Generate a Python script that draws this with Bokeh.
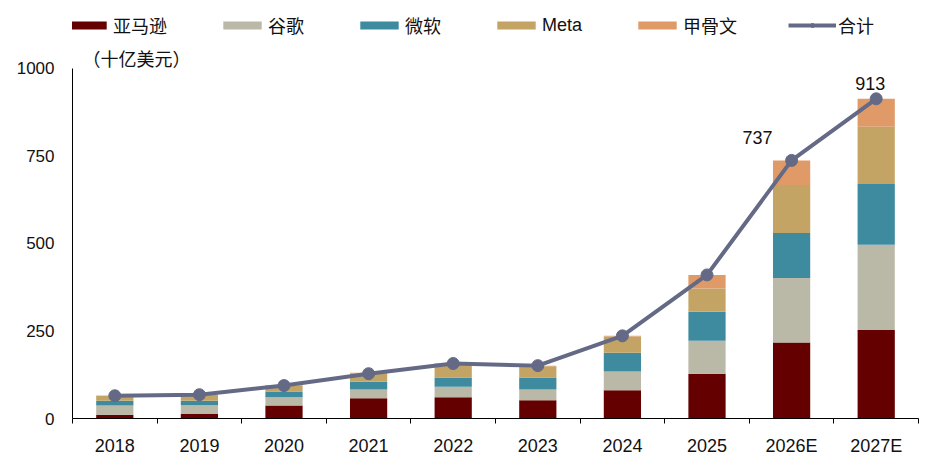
from bokeh.plotting import figure
from bokeh.models import ColumnDataSource, FixedTicker, Legend, LegendItem, Label, Range1d
from bokeh.embed import file_html
from bokeh.resources import INLINE

years = ["2018", "2019", "2020", "2021", "2022", "2023", "2024", "2025", "2026E", "2027E"]
amazon = [11, 13, 37, 58, 61, 52, 81, 128, 217, 253]
google = [26, 25, 24, 25, 30, 31, 53, 94, 184, 243]
msft = [14, 13, 16, 22, 26, 34, 54, 83, 129, 174]
meta = [14, 16, 17, 24, 39, 32, 46, 66, 137, 163]
oracle = [1, 1, 2, 2, 2, 2, 2, 39, 70, 80]
total = [65, 68, 94, 128, 157, 151, 236, 410, 737, 913]
series_names = ["亚马逊", "谷歌", "微软", "Meta", "甲骨文"]
total_name = "合计"
unit_text = "（十亿美元）"
y_ticks = [0, 250, 500, 750, 1000]
y_max = 1000

colors = ["#650000", "#bab9a8", "#3e8a9e", "#c4a464", "#df9a68"]
line_color = "#646a86"
FONT = "Liberation Sans, Noto Sans CJK SC"

# frame spans from canvas top; axis value y_max sits 68px below the top of a 419px frame
frame_h = 419
y_top = y_max * frame_h / (frame_h - 68)

xs = [i + 0.5 for i in range(len(years))]
keys = ["amazon", "google", "msft", "meta", "oracle"]
source = ColumnDataSource(dict(x=xs, amazon=amazon, google=google, msft=msft,
                               meta=meta, oracle=oracle, total=total))

p = figure(width=924, height=458, output_backend="svg", toolbar_location=None,
           x_range=Range1d(0, len(years)), y_range=Range1d(0, y_top),
           min_border_left=72, min_border_right=6, min_border_top=0, min_border_bottom=39)
p.outline_line_color = None
p.xgrid.visible = False
p.ygrid.visible = False

bars = p.vbar_stack(keys, x="x", width=0.44, source=source, color=colors, line_color=None)
ln = p.line("x", "total", source=source, line_color=line_color, line_width=4)
sc = p.scatter("x", "total", source=source, size=12, fill_color=line_color, line_color=line_color)

# x axis: ticks at category boundaries, labels at centres
xt = FixedTicker(ticks=xs, minor_ticks=list(range(len(years) + 1)))
p.xaxis.ticker = xt
p.xaxis.major_label_overrides = {x: y for x, y in zip(xs, years)}
p.xaxis.major_tick_line_color = None
p.xaxis.major_tick_out = 0
p.xaxis.minor_tick_line_color = "black"
p.xaxis.minor_tick_out = 5
p.xaxis.minor_tick_in = 0
p.xaxis.major_label_standoff = 12
p.xaxis.axis_line_color = "black"
p.xaxis.major_label_text_font_size = "18px"

p.yaxis.ticker = FixedTicker(ticks=y_ticks)
p.yaxis.bounds = (0, y_max)
p.yaxis.major_tick_line_color = None
p.yaxis.minor_tick_line_color = None
p.yaxis.major_tick_out = 0
p.yaxis.major_label_standoff = 18
p.yaxis.axis_line_color = "black"
p.yaxis.major_label_text_font_size = "17px"

for ax in (p.xaxis[0], p.yaxis[0]):
    ax.major_label_text_font = FONT
    ax.major_label_text_color = "#111111"

items = [LegendItem(label=n, renderers=[r]) for n, r in zip(series_names, bars)]
items.append(LegendItem(label=total_name, renderers=[ln, sc]))
legend = Legend(items=items, orientation="horizontal", location=(-9, 380),
                glyph_width=48, glyph_height=10, label_standoff=2, spacing=51,
                padding=0, margin=0, border_line_color=None, background_fill_alpha=0,
                label_text_font=FONT, label_text_font_size="18px", label_text_color="#111111")
p.add_layout(legend, "center")

p.add_layout(Label(x=0, y=y_max, x_offset=10, y_offset=8, text=unit_text,
                   text_baseline="middle", text_font=FONT, text_font_size="18px",
                   text_color="#111111"))

for i, dx, dy in [(8, -34, 23), (9, -6, 15)]:
    p.add_layout(Label(x=xs[i], y=total[i], x_offset=dx, y_offset=dy, text=str(total[i]),
                       text_align="center", text_baseline="middle", text_font=FONT,
                       text_font_size="18px", text_color="#111111"))

open("out.html", "w").write(file_html(p, INLINE))
